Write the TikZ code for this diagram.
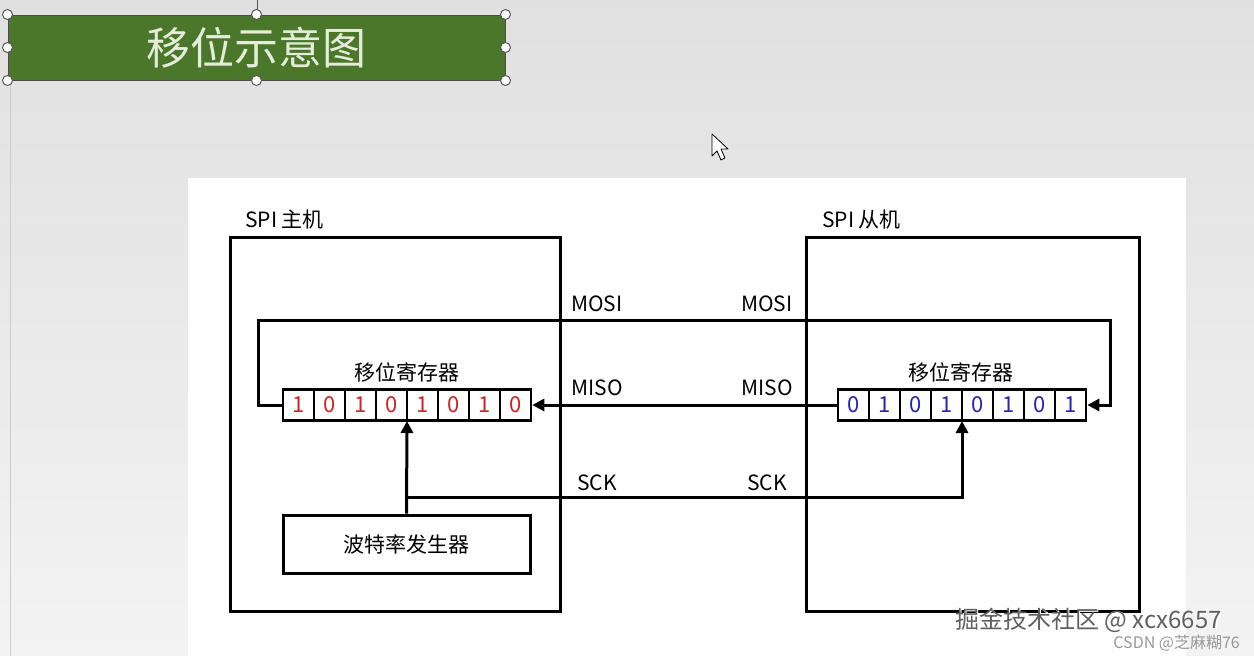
\documentclass[tikz,border=0pt]{standalone}
\usepackage{fontspec}
\setmainfont{Noto Sans CJK SC}
\usetikzlibrary{arrows.meta}
\definecolor{titlegreen}{HTML}{4A7729}
\definecolor{titletext}{HTML}{E4ECDA}
\definecolor{bitred}{HTML}{D02424}
\definecolor{bitblue}{HTML}{2424B4}
\definecolor{bggray}{HTML}{EBEBEB}
\tikzset{
  frame/.style={draw=black, line width=3pt, fill=white},
  cell/.style={draw=black, line width=2.6pt, fill=white, minimum width=31pt, minimum height=31pt, inner sep=0pt, font=\fontsize{22}{24}\selectfont},
  lbl/.style={font=\fontsize{21}{24}\selectfont, inner sep=0pt},
  wire/.style={draw=black, line width=3pt},
  arr/.style={wire, -{Triangle[length=12pt,width=12pt]}},
  handle/.style={circle, draw=gray!70!black, fill=white, line width=1pt, minimum size=10pt, inner sep=0pt},
}
\begin{document}
\begin{tikzpicture}[x=1pt,y=-1pt]
\useasboundingbox (0,0) rectangle (1254,656);
\shade[top color=bggray!90!gray, bottom color=bggray!60] (0,0) rectangle (1254,656);
\draw[gray!40, line width=1pt] (10,85) -- (10,656);
% panel
\fill[white] (188,178) rectangle (1186,656);
% title
\draw[gray!70!black, line width=1pt] (257,0) -- (257,15);
\node[draw=gray!60!black, fill=titlegreen, line width=1pt, minimum width=497pt, minimum height=65pt, inner sep=0pt, text=titletext, font=\fontsize{44}{48}\selectfont] (title) at (256.5,47.5) {移位示意图};
\foreach \p in {north west,north,north east,west,east,south west,south,south east}
  \node[handle] at (title.\p) {};
% host / slave frames
\node[lbl, anchor=west] (hostlbl) at (245,220) {SPI 主机};
\node[lbl, anchor=west] (slavelbl) at (822,220) {SPI 从机};
\draw[frame] (230,237) rectangle (560,611);
\draw[frame] (806,237) rectangle (1139,611);
% registers
\foreach \b [count=\i] in {1,0,1,0,1,0,1,0}
  \node[cell, text=bitred] (m\i) at (283+15.5+31*\i-31,405) {\b};
\foreach \b [count=\i] in {0,1,0,1,0,1,0,1}
  \node[cell, text=bitblue] (s\i) at (838+15.5+31*\i-31,405) {\b};
\node[lbl] (mreg) at (407,372) {移位寄存器};
\node[lbl] (sreg) at (961,372) {移位寄存器};
% baud generator
\node[draw=black, line width=3pt, fill=white, minimum width=247pt, minimum height=58pt, inner sep=0pt, font=\fontsize{21}{24}\selectfont] (baud) at (406.5,544) {波特率发生器};
% MOSI
\coordinate (mosiA) at (258,405);
\coordinate (mosiB) at (258,320);
\coordinate (mosiC) at (1110,320);
\coordinate (mosiD) at (1110,405);
\draw[arr] (m1.west) -- (mosiA) -- (mosiB) -- (mosiC) -- (mosiD) -- (s8.east);
% MISO
\draw[arr] (s1.west) -- (m8.east);
% SCK
\coordinate (sckA) at (407,497);
\coordinate (sckB) at (962,497);
\draw[arr] (baud.north) -- (407,421);
\draw[arr] (sckA) -- (sckB) -- (962,421);
% labels
\node[lbl] (mosi1) at (597,304) {MOSI};
\node[lbl] (mosi2) at (767,304) {MOSI};
\node[lbl] (miso1) at (597,388) {MISO};
\node[lbl] (miso2) at (767,388) {MISO};
\node[lbl] (sck1) at (597,483) {SCK};
\node[lbl] (sck2) at (767,483) {SCK};
% cursor
\draw[black, fill=white, line width=0.8pt, line join=round] (712,134) -- (712,156) -- (717,151) -- (721,160) -- (725,158) -- (721,149) -- (728,149) -- cycle;
% watermarks
\node[anchor=west, text=white, font=\fontsize{24}{26}\selectfont, inner sep=0pt] at (956.5,621.5) {掘金技术社区 @ xcx6657};
\node[anchor=west, text=gray!75!black, font=\fontsize{24}{26}\selectfont, inner sep=0pt] (wm1) at (955,620) {掘金技术社区 @ xcx6657};
\node[anchor=east, text=gray!80, font=\fontsize{16}{18}\selectfont, inner sep=0pt] (wm2) at (1240,643) {CSDN @芝麻糊76};
\end{tikzpicture}
\end{document}
